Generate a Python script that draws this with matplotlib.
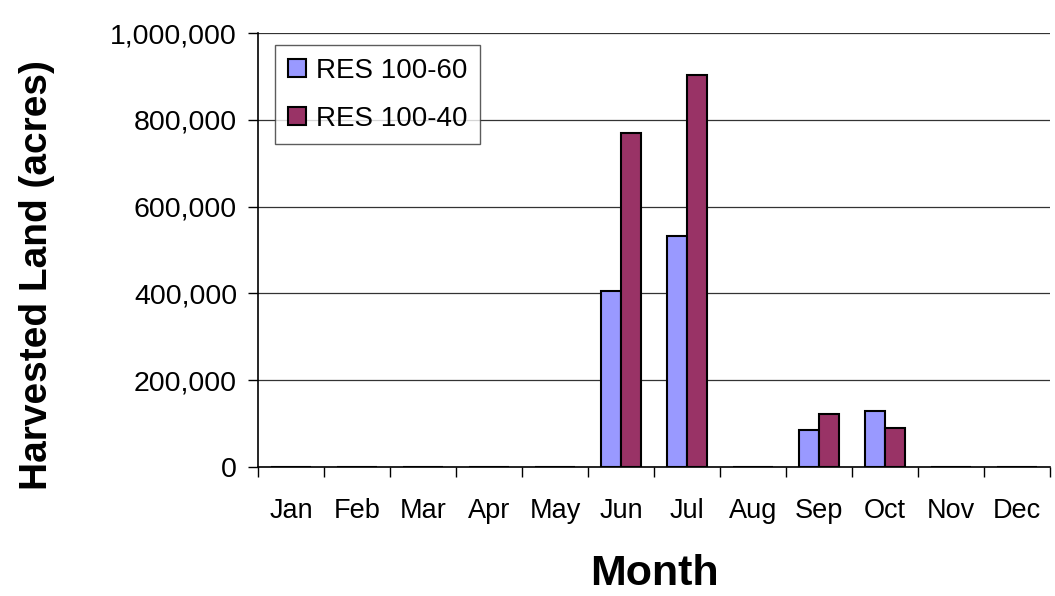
import numpy as np
import matplotlib
matplotlib.use("Agg")
import matplotlib.pyplot as plt
from matplotlib.ticker import FuncFormatter

plt.rcParams['font.family'] = ['Liberation Sans', 'DejaVu Sans']

months = ['Jan', 'Feb', 'Mar', 'Apr', 'May', 'Jun',
          'Jul', 'Aug', 'Sep', 'Oct', 'Nov', 'Dec']
res_100_60 = [0, 0, 0, 0, 0, 406000, 532000, 0, 86000, 128000, 0, 0]
res_100_40 = [0, 0, 0, 0, 0, 769000, 904000, 0, 123000, 91000, 0, 0]
series_names = ['RES 100-60', 'RES 100-40']

fig = plt.figure(figsize=(10.55, 5.96), dpi=100, facecolor='white')
ax = fig.add_axes([0.2445, 0.2164, 0.7508, 0.7282])

x = np.arange(len(months))
w = 0.305
ax.bar(x - w / 2, res_100_60, w, color='#9999FF', edgecolor='black',
       linewidth=1.5, label=series_names[0], zorder=3)
ax.bar(x + w / 2, res_100_40, w, color='#993366', edgecolor='black',
       linewidth=1.5, label=series_names[1], zorder=3)

ax.set_xlim(-0.5, len(months) - 0.5)
ax.set_ylim(0, 1000000)
ax.set_yticks(np.arange(0, 1000001, 200000))
ax.yaxis.set_major_formatter(FuncFormatter(lambda v, p: '{:,.0f}'.format(v)))
ax.yaxis.grid(True, color='#333333', linewidth=0.9, zorder=0)

# labels at category centres, tick marks at category boundaries
ax.set_xticks(x)
ax.set_xticklabels(months)
ax.set_xticks(np.arange(-0.5, len(months)), minor=True)
ax.tick_params(axis='x', which='major', length=0, pad=22, labelsize=19.5)
ax.tick_params(axis='x', which='minor', length=7, width=1, direction='out')
ax.tick_params(axis='y', length=7, width=1, pad=8, labelsize=20.5)

for side in ['top', 'right']:
    ax.spines[side].set_visible(False)
ax.spines['left'].set_linewidth(1.2)
ax.spines['bottom'].set_linewidth(1.2)
ax.spines['bottom'].set_zorder(4)

ax.set_xlabel('Month', fontsize=31, fontweight='bold', labelpad=22)
ax.set_ylabel('Harvested Land (acres)', fontsize=28, fontweight='bold')
ax.yaxis.set_label_coords(-0.256, 0.442)

leg = ax.legend(loc='upper left', bbox_to_anchor=(0.022, 0.972),
                fontsize=20, frameon=True, fancybox=False,
                handlelength=0.65, handleheight=0.65, handletextpad=0.35,
                borderpad=0.45, labelspacing=0.8, borderaxespad=0)
leg.get_frame().set_edgecolor('#333333')
leg.get_frame().set_linewidth(1.0)

fig.savefig('out.png', dpi=100, facecolor='white')
